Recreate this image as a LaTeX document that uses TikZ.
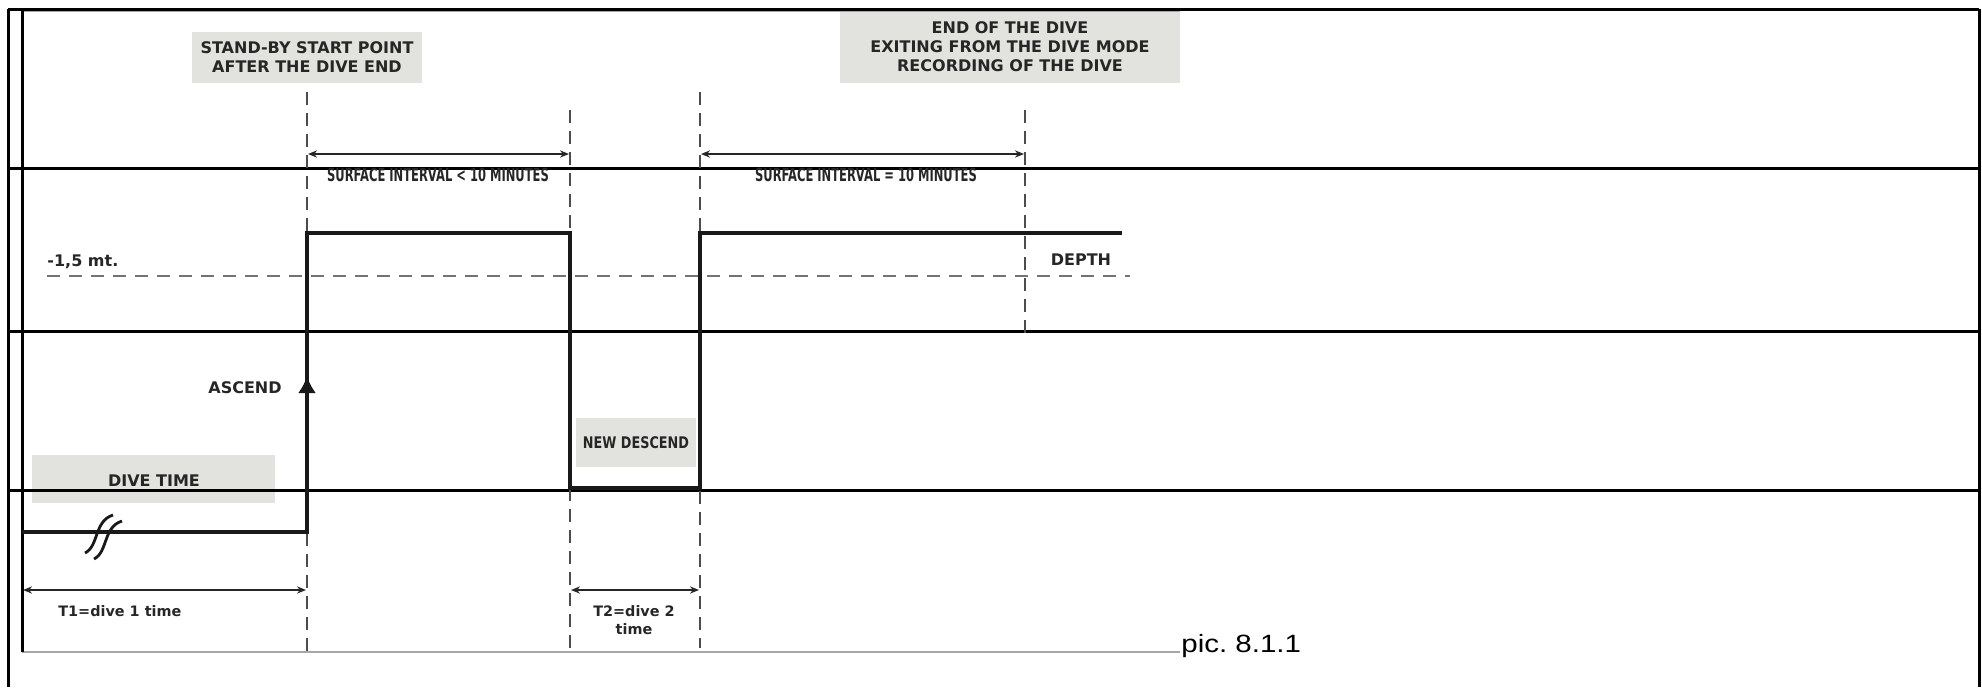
\documentclass[tikz,border=0pt]{standalone}
\usepackage{fontspec}
\setmainfont{DejaVu Sans}
\newfontfamily\capfont{Liberation Sans}
\usetikzlibrary{arrows.meta}
\definecolor{boxgray}{HTML}{E2E2DF}
\definecolor{txt}{HTML}{262626}
\begin{document}
\begin{tikzpicture}[x=0.5pt,y=-0.5pt,
  frame/.style={line width=1.5pt, black},
  imgedge/.style={line width=0.6pt, black!35},
  profile/.style={line width=1.6pt, black!90},
  dashv/.style={line width=1pt, black!70, dash pattern=on 6.5pt off 4pt},
  dashh/.style={line width=1.3pt, black!55, dash pattern=on 6.5pt off 4.5pt},
  dim/.style={line width=0.9pt, black!85, {Stealth[length=4.5pt,width=3.6pt]}-{Stealth[length=4.5pt,width=3.6pt]}},
  lbl/.style={font=\bfseries\fontsize{8}{9.5}\selectfont, text=txt, inner sep=0pt, align=center},
  narrowlbl/.style={font=\bfseries\fontsize{9}{10}\selectfont, text=txt, inner sep=0pt, align=center},
  smalllbl/.style={font=\bfseries\fontsize{7.2}{9}\selectfont, text=txt, inner sep=0pt, align=center},
  gbox/.style={lbl, fill=boxgray}
]
\useasboundingbox (0,0) rectangle (1982,687);

% grey label boxes
\node[gbox, minimum width=115pt, minimum height=25.5pt] (standby) at (307,57.5)
  {STAND-BY START POINT\\AFTER THE DIVE END};
\node[gbox, minimum width=170pt, minimum height=36.5pt] (enddive) at (1010,46.5)
  {END OF THE DIVE\\EXITING FROM THE DIVE MODE\\RECORDING OF THE DIVE};
\node[gbox, minimum width=121.5pt, minimum height=24pt, text depth=0pt] (divebox) at (153.5,479) {};
\node[lbl] (divetime) at (154,481) {DIVE TIME};
\node[gbox, minimum width=60pt, minimum height=24.5pt] (newdesc) at (636,442.5)
  {\scalebox{0.8}[1]{NEW DESCEND}};

% frame
\coordinate (tl) at (8,9);  \coordinate (tr) at (1979,9);
\coordinate (bl) at (8,687); \coordinate (br) at (1979,687);
\draw[imgedge] (22,11.5) -- (1180,11.5);
\draw[imgedge] (22,652) -- (1180,652);
\draw[frame] (tl) -- (bl);
\draw[frame] (tr) -- (br);
\draw[frame] (22,9) -- (22,652);
\foreach \yy in {9,168,331,490} \draw[frame] (8,\yy) -- (1979,\yy);

% dashed vertical markers
\coordinate (v1t) at (307,92);  \coordinate (v1b) at (307,652);
\coordinate (v2t) at (570,110); \coordinate (v2b) at (570,648);
\coordinate (v3t) at (700,92);  \coordinate (v3b) at (700,648);
\coordinate (v4t) at (1025,110); \coordinate (v4b) at (1025,338);
\draw[dashv] (v1t) -- (v1b);
\draw[dashv] (v2t) -- (v2b);
\draw[dashv] (v3t) -- (v3b);
\draw[dashv] (v4t) -- (v4b);

% depth threshold
\coordinate (h1) at (47,276); \coordinate (h2) at (1130,276);
\draw[dashh] (h1) -- (h2);
\node[lbl, anchor=west] (mt) at (47,262) {-1,5 mt.};
\node[lbl] (depth) at (1081,260) {DEPTH};

% depth profile
\coordinate (p0) at (22,532);  \coordinate (p1) at (307,532);
\coordinate (p2) at (307,233); \coordinate (p3) at (570,233);
\coordinate (p4) at (570,488); \coordinate (p5) at (700,488);
\coordinate (p6) at (700,233); \coordinate (p7) at (1122,233);
\draw[profile, line join=miter] (p0) -- (p1) -- (p2) -- (p3) -- (p4) -- (p5) -- (p6) -- (p7);
\coordinate (asc0) at (307,400); \coordinate (asc1) at (307,376);
\draw[profile, -{Latex[length=8.5pt,width=9pt]}] (asc0) -- (asc1);
\node[lbl] (ascend) at (245,388) {ASCEND};

% break symbol
\draw[line width=1.4pt, black!90] (85,553) .. controls (99,546) and (94,521) .. (113,515);
\draw[line width=1.4pt, black!90] (94,559) .. controls (108,552) and (103,527) .. (122,521);

% dimension arrows
\coordinate (a1l) at (308,154); \coordinate (a1r) at (569,154);
\coordinate (a2l) at (701,154); \coordinate (a2r) at (1024,154);
\coordinate (a3l) at (23,590);  \coordinate (a3r) at (306,590);
\coordinate (a4l) at (571,590); \coordinate (a4r) at (699,590);
\draw[dim] (a1l) -- (a1r);
\draw[dim] (a2l) -- (a2r);
\draw[dim] (a3l) -- (a3r);
\draw[dim] (a4l) -- (a4r);
\node[narrowlbl] (si1) at (438,175) {\scalebox{0.64}[1]{SURFACE INTERVAL < 10 MINUTES}};
\node[narrowlbl] (si2) at (866,175) {\scalebox{0.64}[1]{SURFACE INTERVAL = 10 MINUTES}};
\node[smalllbl, anchor=west] (t1) at (58,611) {T1=dive 1 time};
\node[smalllbl] (t2) at (634,620) {T2=dive 2\\time};

% caption
\node[anchor=base west, inner sep=0pt, font=\capfont\fontsize{12.5}{14}\selectfont] (cap) at (1181,652)
  {\scalebox{1.18}[1]{pic.\ 8.1.1}};
\end{tikzpicture}
\end{document}
